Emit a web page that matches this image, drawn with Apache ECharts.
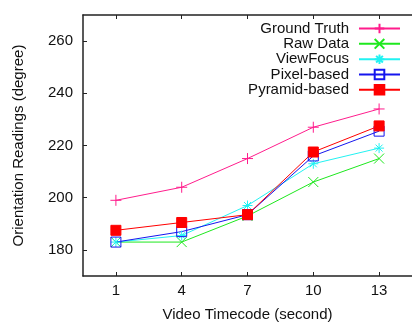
<!DOCTYPE html>
<html>
<head>
<meta charset="utf-8">
<script src="https://cdn.jsdelivr.net/npm/echarts@6/dist/echarts.min.js"></script>
<style>
  html, body { margin: 0; padding: 0; background: #fff; }
  #chart { width: 412px; height: 327px; }
</style>
</head>
<body>
<div id="chart"></div>
<script>
// Video timecodes (seconds) along the x axis
const timecodes = ['1', '4', '7', '10', '13'];
// Orientation readings (degrees) per method
const groundTruth = [199, 204, 215, 227, 234];
const rawData = [183, 183, 193, 206, 215];
const viewFocus = [183, 185.5, 197, 213, 219];
const pixelBased = [183, 187, 193.5, 216, 225.5];
const pyramidBased = [187.5, 190.5, 193.5, 217.5, 227.5];
// y tick labels
const yTicks = [180, 200, 220, 240, 260];

const FONT = '"Liberation Sans", Arial, Helvetica, sans-serif';
const AXIS_COLOR = '#222';

const SYM_PLUS = 'path://M5,0L5,10M0,5L10,5';
const SYM_CROSS = 'path://M0,0L10,10M0,10L10,0';
const SYM_STAR = 'path://M5,0L5,10M0,5L10,5M1.5,1.5L8.5,8.5M1.5,8.5L8.5,1.5';
const SYM_BOX = 'path://M0,0L10,0L10,10L0,10Z';

function lineSeries(name, data, color, symbol, size, fill) {
  return {
    name: name,
    type: 'line',
    data: data,
    symbol: symbol,
    symbolSize: size,
    showAllSymbol: true,
    lineStyle: { color: color, width: 1 },
    itemStyle: {
      color: fill,
      borderColor: color,
      borderWidth: 1
    },
    emphasis: { disabled: true },
    animation: false,
    z: 2
  };
}

const series = [
  lineSeries('Ground Truth', groundTruth, '#ff1c8c', SYM_PLUS, 11, 'rgba(0,0,0,0)'),
  lineSeries('Raw Data', rawData, '#1ee81e', SYM_CROSS, 10, 'rgba(0,0,0,0)'),
  lineSeries('ViewFocus', viewFocus, '#22f2f2', SYM_STAR, 10, 'rgba(0,0,0,0)'),
  lineSeries('Pixel-based', pixelBased, '#1515ee', SYM_BOX, 10, 'rgba(0,0,0,0)'),
  lineSeries('Pyramid-based', pyramidBased, '#ff0000', 'rect', 10, '#ff0000')
];

const legendNames = ['Ground Truth', 'Raw Data', 'ViewFocus', 'Pixel-based', 'Pyramid-based'];
const legendTops = [21, 36.3, 51.7, 67, 82.3];
const legends = legendNames.map((n, i) => ({
  data: [n],
  right: 11,
  top: legendTops[i],
  orient: 'vertical',
  align: 'right',
  padding: 0,
  itemWidth: 41,
  itemHeight: 12,
  selectedMode: false,
  textStyle: {
    fontFamily: FONT,
    fontSize: 15,
    color: '#111',
    lineHeight: 12,
    padding: [0, 5, 0, 0]
  }
}));

const chart = echarts.init(document.getElementById('chart'), null, { renderer: 'canvas' });
chart.setOption({
  backgroundColor: '#fff',
  animation: false,
  grid: { left: 83, top: 15, bottom: 50.3, right: -7, containLabel: false },
  legend: legends,
  xAxis: [
    {
      type: 'category',
      data: timecodes,
      boundaryGap: true,
      position: 'bottom',
      name: 'Video Timecode (second)',
      nameLocation: 'middle',
      nameGap: 31,
      nameTextStyle: { fontFamily: FONT, fontSize: 15, color: '#111' },
      axisLine: { show: true, lineStyle: { color: AXIS_COLOR, width: 1.5 } },
      axisTick: { show: true, inside: true, length: 4, alignWithLabel: true, lineStyle: { color: AXIS_COLOR, width: 1 } },
      axisLabel: { fontFamily: FONT, fontSize: 15, color: '#111', margin: 7 },
      splitLine: { show: false }
    },
    {
      type: 'category',
      data: timecodes,
      boundaryGap: true,
      position: 'top',
      axisLine: { show: true, lineStyle: { color: AXIS_COLOR, width: 1.5 } },
      axisTick: { show: true, inside: true, length: 4, alignWithLabel: true, lineStyle: { color: AXIS_COLOR, width: 1 } },
      axisLabel: { show: false },
      splitLine: { show: false }
    }
  ],
  yAxis: [
    {
      type: 'value',
      min: 170,
      max: 270,
      position: 'left',
      name: 'Orientation Readings (degree)',
      nameLocation: 'middle',
      nameGap: 57,
      nameTextStyle: { fontFamily: FONT, fontSize: 15, color: '#111' },
      axisLine: { show: true, lineStyle: { color: AXIS_COLOR, width: 1.5 } },
      axisTick: { show: true, inside: true, length: 4, customValues: yTicks, lineStyle: { color: AXIS_COLOR, width: 1 } },
      axisLabel: { fontFamily: FONT, fontSize: 15, color: '#111', margin: 10, customValues: yTicks },
      splitLine: { show: false }
    }
  ],
  series: series
});
</script>
</body>
</html>
